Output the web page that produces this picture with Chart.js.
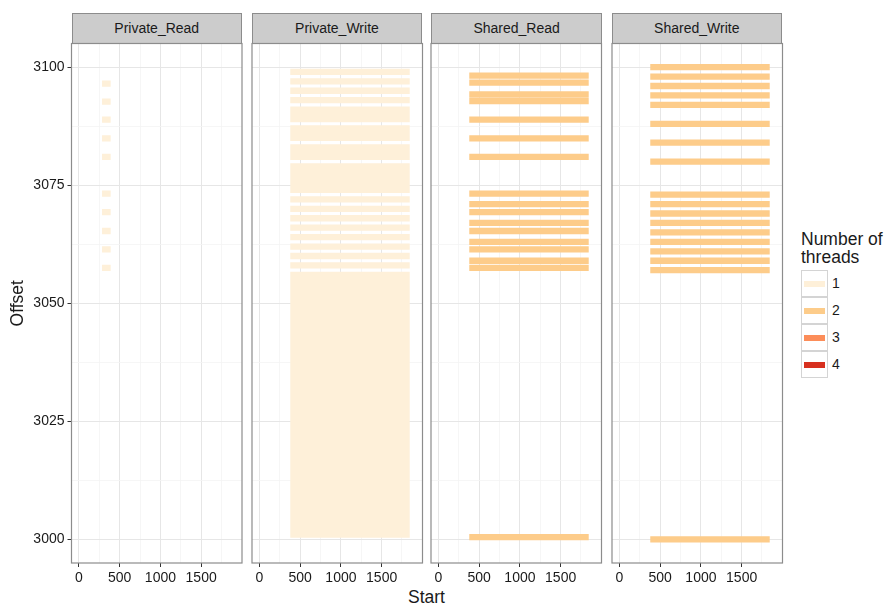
<!DOCTYPE html>
<html>
<head>
<meta charset="utf-8">
<script src="https://cdn.jsdelivr.net/npm/chart.js@4.4.0/dist/chart.umd.min.js"></script>
<style>
  body { margin: 0; background: #fff; font-family: "Liberation Sans", Arial, sans-serif; }
  #wrap { position: relative; width: 893px; height: 607px; overflow: hidden; }
  canvas { position: absolute; top: 0; }
  .strip {
    position: absolute; top: 13px; height: 31px; box-sizing: border-box;
    background: #cccccc; border: 1px solid #8c8c8c;
    text-align: center; line-height: 29px; font-size: 14px; color: #1a1a1a;
  }
  #xtitle { position: absolute; left: 0; width: 853px; top: 588px; text-align: center; font-size: 17.5px; line-height: 18px; color: #1a1a1a; }
  #legend { position: absolute; left: 801px; top: 230px; color: #1a1a1a; }
  #legend .ltitle { font-size: 17.5px; line-height: 18px; margin-bottom: 4px; }
  .key { position: relative; height: 27px; }
  .key .box { position: absolute; left: 0; top: 0; width: 27px; height: 27px; box-sizing: border-box; border: 1px solid #d4d4d4; background: #fff; }
  .key .box span { position: absolute; left: 2px; right: 2px; top: 10px; height: 6px; }
  .key .lab { position: absolute; left: 31px; top: 5px; font-size: 14px; line-height: 16px; }
</style>
</head>
<body>
<div id="wrap">
  <div id="xtitle">Start</div>
  <div id="legend">
    <div class="ltitle">Number of<br>threads</div>
    <div id="keys"></div>
  </div>
</div>
<script>
// facettes
const panelNames = ['Private_Read', 'Private_Write', 'Shared_Read', 'Shared_Write'];
const panelThreads = [1, 1, 2, 2];
const segStart = [283, 378, 378, 378];
const segEnd = [389, 1845, 1845, 1845];

// offsets
const privateReadOffsets = [3096.5, 3092.7, 3088.9, 3084.9, 3081.0, 3073.2, 3069.3, 3065.3, 3061.4, 3057.5];
const privateWriteOffsets = [
  3001, 3002, 3003, 3004, 3005, 3006, 3007, 3008, 3009, 3010, 3011, 3012, 3013, 3014,
  3015, 3016, 3017, 3018, 3019, 3020, 3021, 3022, 3023, 3024, 3025, 3026, 3027, 3028,
  3029, 3030, 3031, 3032, 3033, 3034, 3035, 3036, 3037, 3038, 3039, 3040, 3041, 3042,
  3043, 3044, 3045, 3046, 3047, 3048, 3049, 3050, 3051, 3052, 3053, 3054, 3055, 3056,
  3058, 3060, 3062, 3064, 3066, 3068, 3070, 3072, 3074, 3075, 3076, 3077, 3078, 3079,
  3081, 3082, 3083, 3085, 3086, 3087, 3089, 3090, 3091, 3093, 3095, 3097, 3099
];
const sharedReadOffsets = [3000.5, 3057.5, 3059, 3061.4, 3063, 3065.3, 3067, 3069.3, 3071, 3073.2,
  3081.0, 3084.9, 3088.9, 3092.8, 3094.2, 3096.7, 3098.2];
const sharedWriteOffsets = [3000, 3057, 3059, 3061, 3063, 3065, 3067, 3069, 3071, 3073,
  3080, 3084, 3088, 3092, 3094, 3096, 3098, 3100];

// légende
const threadLabels = ['1', '2', '3', '4'];
const threadColors = ['#fef0d9', '#fdcc8a', '#fc8d59', '#d7301f'];

// graduations
const xMajor = [0, 500, 1000, 1500];
const xMinor = [250, 750, 1250, 1750];
const yMajor = [3000, 3025, 3050, 3075, 3100];
const yMinor = [3012.5, 3037.5, 3062.5, 3087.5];

const panelOffsets = [privateReadOffsets, privateWriteOffsets, sharedReadOffsets, sharedWriteOffsets];

// mise en page
const panelLeft = [71.5, 251.7, 431.4, 611.5];
const panelWidth = 170.5;
const plotTop = 43.5;
const plotBottom = 563;
const textColor = '#1a1a1a';

Chart.defaults.font.family = '"Liberation Sans", Arial, sans-serif';
Chart.defaults.color = textColor;

const panelBorder = {
  id: 'panelBorder',
  afterDraw(chart) {
    const a = chart.chartArea;
    const ctx = chart.ctx;
    ctx.save();
    ctx.strokeStyle = '#8c8c8c';
    ctx.lineWidth = 1.2;
    ctx.strokeRect(a.left, a.top, a.right - a.left, a.bottom - a.top);
    ctx.restore();
  }
};

function segments(offsets, start, end) {
  const pts = [];
  offsets.forEach(o => {
    pts.push({x: start, y: o}, {x: end, y: o}, {x: end, y: null});
  });
  return pts;
}

function tickList(major, minor) {
  return major.concat(minor).sort((a, b) => a - b).map(v => ({value: v}));
}

function gridOpts(major, withTicks) {
  return {
    color: c => major.includes(c.tick.value) ? '#e6e6e6' : '#f4f4f4',
    lineWidth: c => major.includes(c.tick.value) ? 1 : 0.8,
    tickColor: c => (withTicks && major.includes(c.tick.value)) ? '#333333' : 'rgba(0,0,0,0)',
    tickLength: 4,
    drawTicks: withTicks
  };
}

const wrap = document.getElementById('wrap');

panelNames.forEach((name, i) => {
  const first = i === 0;
  const canvasLeft = first ? 0 : panelLeft[i] - 6;
  const canvasWidth = panelLeft[i] + panelWidth + 6 - canvasLeft;

  const strip = document.createElement('div');
  strip.className = 'strip';
  strip.style.left = panelLeft[i] + 'px';
  strip.style.width = panelWidth + 'px';
  strip.textContent = name;
  wrap.appendChild(strip);

  const canvas = document.createElement('canvas');
  canvas.width = Math.round(canvasWidth);
  canvas.height = 607;
  canvas.style.left = canvasLeft + 'px';
  wrap.appendChild(canvas);

  new Chart(canvas, {
    type: 'line',
    data: {
      datasets: [{
        label: name,
        data: segments(panelOffsets[i], segStart[i], segEnd[i]),
        borderColor: threadColors[panelThreads[i] - 1],
        borderWidth: 6.3,
        borderCapStyle: 'butt',
        pointRadius: 0,
        pointHoverRadius: 0,
        spanGaps: false,
        tension: 0
      }]
    },
    options: {
      responsive: false,
      animation: false,
      events: [],
      layout: {
        padding: {
          left: first ? 0 : panelLeft[i] - canvasLeft,
          right: canvas.width - (panelLeft[i] + panelWidth - canvasLeft),
          top: plotTop,
          bottom: 0
        }
      },
      plugins: {
        legend: { display: false },
        tooltip: { enabled: false }
      },
      scales: {
        x: {
          type: 'linear',
          min: -92,
          max: 2002,
          afterBuildTicks: s => { s.ticks = tickList(xMajor, xMinor); },
          afterFit: s => { s.height = 607 - plotBottom; },
          ticks: {
            autoSkip: false,
            maxRotation: 0,
            padding: 3,
            font: { size: 14 },
            color: textColor,
            callback: v => xMajor.includes(v) ? String(v) : ''
          },
          grid: gridOpts(xMajor, true),
          border: { display: false }
        },
        y: {
          type: 'linear',
          min: 2995,
          max: 3105,
          afterBuildTicks: s => { s.ticks = tickList(yMajor, yMinor); },
          afterFit: s => { s.width = first ? panelLeft[0] : 0; },
          ticks: {
            display: first,
            autoSkip: false,
            padding: 3,
            font: { size: 14 },
            color: textColor,
            callback: v => yMajor.includes(v) ? String(v) : ''
          },
          title: {
            display: first,
            text: 'Offset',
            font: { size: 17.5 },
            color: textColor,
            padding: { top: 8, bottom: 0 }
          },
          grid: gridOpts(yMajor, first),
          border: { display: false }
        }
      }
    },
    plugins: [panelBorder]
  });
});

// légende construite à partir des tableaux
const keys = document.getElementById('keys');
threadLabels.forEach((lab, k) => {
  const row = document.createElement('div');
  row.className = 'key';
  row.innerHTML = '<div class="box"><span style="background:' + threadColors[k] + '"></span></div>' +
    '<div class="lab">' + lab + '</div>';
  keys.appendChild(row);
});
</script>
</body>
</html>
